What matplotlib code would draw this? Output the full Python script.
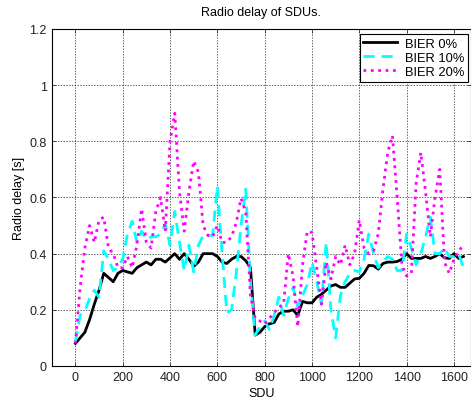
import matplotlib
matplotlib.use('Agg')
import matplotlib.pyplot as plt

plt.rcParams['font.family'] = ['Liberation Sans', 'DejaVu Sans']

# SDU index (every 20th SDU)
SDU = list(range(0, 1660, 20))

BIER_0 = [0.08, 0.10, 0.12, 0.165, 0.22, 0.27, 0.33, 0.315, 0.30, 0.33,
          0.34, 0.335, 0.33, 0.35, 0.36, 0.37, 0.36, 0.38, 0.38, 0.37,
          0.385, 0.40, 0.38, 0.40, 0.38, 0.355, 0.37, 0.40, 0.40, 0.40,
          0.39, 0.37, 0.365, 0.38, 0.39, 0.39, 0.375, 0.35, 0.11, 0.12,
          0.14, 0.15, 0.155, 0.185, 0.195, 0.195, 0.20, 0.18, 0.23, 0.225,
          0.225, 0.245, 0.255, 0.27, 0.285, 0.29, 0.28, 0.28, 0.295, 0.31,
          0.312, 0.33, 0.358, 0.357, 0.345, 0.365, 0.37, 0.37, 0.372, 0.38,
          0.40, 0.383, 0.383, 0.383, 0.39, 0.383, 0.39, 0.40, 0.385, 0.383,
          0.40, 0.383, 0.39]

BIER_10 = [0.085, 0.18, 0.195, 0.24, 0.27, 0.245, 0.41, 0.38, 0.34, 0.35,
           0.38, 0.47, 0.515, 0.44, 0.48, 0.45, 0.46, 0.46, 0.47, 0.505,
           0.43, 0.55, 0.44, 0.34, 0.43, 0.335, 0.43, 0.465, 0.465, 0.465,
           0.64, 0.40, 0.19, 0.20, 0.33, 0.50, 0.63, 0.30, 0.11, 0.14,
           0.16, 0.13, 0.18, 0.245, 0.18, 0.24, 0.28, 0.21, 0.25, 0.29,
           0.37, 0.30, 0.22, 0.44, 0.20, 0.10, 0.25, 0.30, 0.33, 0.34,
           0.335, 0.38, 0.47, 0.40, 0.35, 0.37, 0.39, 0.38, 0.34, 0.34,
           0.47, 0.42, 0.36, 0.40, 0.46, 0.53, 0.40, 0.40, 0.42, 0.39,
           0.39, 0.40, 0.35]

BIER_20 = [0.08, 0.28, 0.42, 0.50, 0.44, 0.52, 0.53, 0.42, 0.40, 0.35,
           0.35, 0.39, 0.35, 0.43, 0.56, 0.44, 0.42, 0.55, 0.60, 0.48,
           0.80, 0.90, 0.62, 0.48, 0.62, 0.73, 0.69, 0.50, 0.465, 0.46,
           0.50, 0.44, 0.44, 0.46, 0.51, 0.597, 0.55, 0.25, 0.17, 0.16,
           0.15, 0.17, 0.19, 0.21, 0.22, 0.40, 0.32, 0.14, 0.36, 0.48,
           0.475, 0.35, 0.22, 0.37, 0.31, 0.39, 0.36, 0.43, 0.36, 0.40,
           0.52, 0.42, 0.40, 0.41, 0.47, 0.63, 0.76, 0.82, 0.60, 0.36,
           0.32, 0.33, 0.65, 0.76, 0.62, 0.46, 0.60, 0.70, 0.37, 0.33,
           0.38, 0.41, 0.43]

LABELS = ['BIER 0%', 'BIER 10%', 'BIER 20%']
XTICKS = list(range(0, 1601, 200))
YTICKS = [0, 0.2, 0.4, 0.6, 0.8, 1, 1.2]
YTICKLABELS = ['0', '0.2', '0.4', '0.6', '0.8', '1', '1.2']

fig = plt.figure(figsize=(4.71, 4.02), dpi=100)
ax = fig.add_axes([0.1098, 0.0871, 0.8902, 0.8383])

ax.plot(SDU, BIER_0, '-', color='black', lw=2, label=LABELS[0])
ax.plot(SDU, BIER_10, '--', color='cyan', lw=2, dashes=(4, 2.5), label=LABELS[1])
ax.plot(SDU, BIER_20, ':', color='magenta', lw=2, label=LABELS[2])

ax.set_xlim(-100, 1672)
ax.set_ylim(0, 1.2)
ax.set_xticks(XTICKS)
ax.set_yticks(YTICKS)
ax.set_yticklabels(YTICKLABELS)
ax.tick_params(direction='in', labelsize=9, length=3, width=0.6, top=True, right=True,
               colors='#333333', labelcolor='#222222')
ax.grid(True, ls=(0, (2, 2)), color='#222222', lw=0.5)
for s in ax.spines.values():
    s.set_linewidth(0.8)

ax.set_xlabel('SDU', fontsize=9, labelpad=3)
ax.set_ylabel('Radio delay [s]', fontsize=9, labelpad=3)
ax.set_title('Radio delay of SDUs.', fontsize=9, pad=10)

leg = ax.legend(loc='upper right', fontsize=9.3, fancybox=False, framealpha=1,
                edgecolor='black', handlelength=2.6, handletextpad=0.6,
                labelspacing=0.15, borderpad=0.3, borderaxespad=0.0,
                bbox_to_anchor=(0.993, 0.985))
leg.get_frame().set_linewidth(0.8)

fig.savefig('out.png', dpi=100)
